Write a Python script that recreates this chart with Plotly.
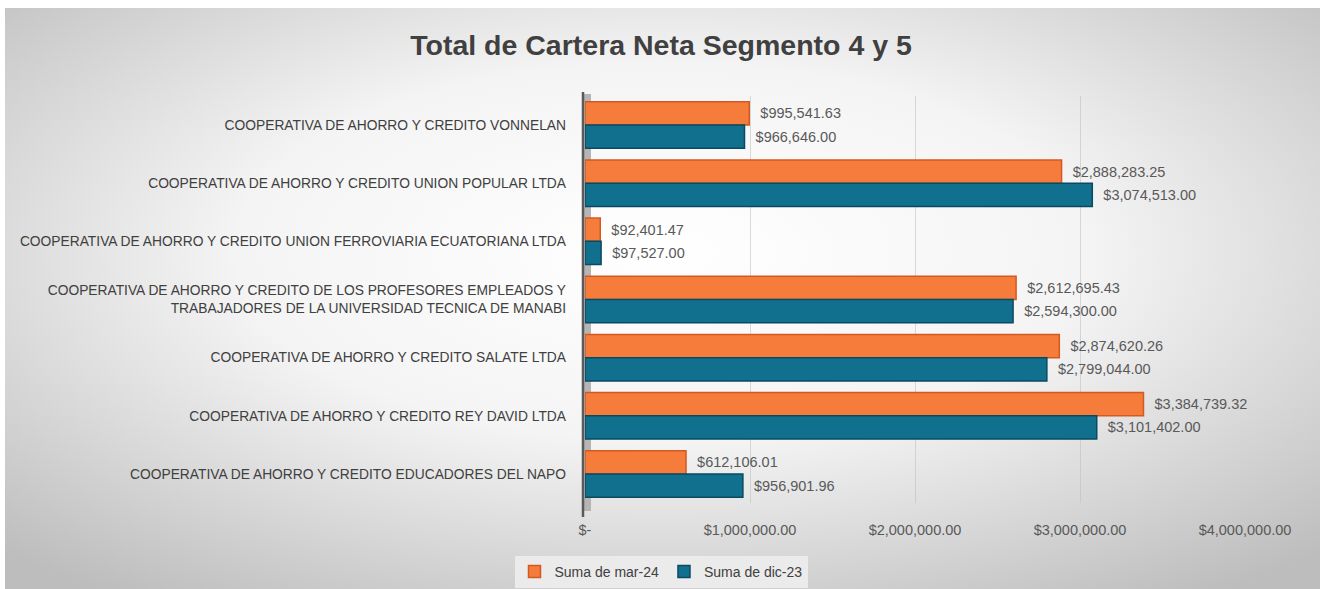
import base64
import plotly.graph_objects as go

# Data (top to bottom)
categorias = [
    "COOPERATIVA DE AHORRO Y CREDITO VONNELAN",
    "COOPERATIVA DE AHORRO Y CREDITO UNION POPULAR LTDA",
    "COOPERATIVA DE AHORRO Y CREDITO UNION FERROVIARIA ECUATORIANA LTDA",
    "COOPERATIVA DE AHORRO Y CREDITO DE LOS PROFESORES EMPLEADOS Y<br>TRABAJADORES DE LA UNIVERSIDAD TECNICA DE MANABI",
    "COOPERATIVA DE AHORRO Y CREDITO SALATE LTDA",
    "COOPERATIVA DE AHORRO Y CREDITO REY DAVID LTDA",
    "COOPERATIVA DE AHORRO Y CREDITO EDUCADORES DEL NAPO",
]
mar_24 = [995541.63, 2888283.25, 92401.47, 2612695.43, 2874620.26, 3384739.32, 612106.01]
dic_23 = [966646.00, 3074513.00, 97527.00, 2594300.00, 2799044.00, 3101402.00, 956901.96]

tick_vals = [0, 1000000, 2000000, 3000000, 4000000]
tick_text = ["$-", "$1,000,000.00", "$2,000,000.00", "$3,000,000.00", "$4,000,000.00"]

W, H = 1320, 589
L, R, T, B = 585, 75, 96, 86
pw, ph = W - L - R, H - T - B

FONT = "Liberation Sans, Arial, sans-serif"

# chart area (grey gradient) starts a few px in from the top/left like the screenshot
bx0, by0 = 5, 8
bw, bh = W - bx0, H - by0
svg = (
    f'<svg xmlns="http://www.w3.org/2000/svg" width="{bw}" height="{bh}" preserveAspectRatio="none">'
    '<defs><radialGradient id="g" cx="0.5" cy="0.42" r="0.72">'
    '<stop offset="0" stop-color="#ffffff"/><stop offset="0.45" stop-color="#f4f4f4"/>'
    '<stop offset="1" stop-color="#bdbdbd"/></radialGradient></defs>'
    f'<rect width="{bw}" height="{bh}" fill="url(#g)"/></svg>'
)
bg_src = "data:image/svg+xml;base64," + base64.b64encode(svg.encode()).decode()

lbl = "\u00a0\u00a0$%{x:,.2f}"

fig = go.Figure()
fig.add_trace(go.Bar(
    y=categorias, x=mar_24, orientation="h", name="Suma de mar-24",
    marker=dict(color="#F67C3B", line=dict(color="#D25A22", width=1.5)),
    texttemplate=lbl, textposition="outside",
    textfont=dict(color="#595959", size=14.5, family=FONT), cliponaxis=False,
))
fig.add_trace(go.Bar(
    y=categorias, x=dic_23, orientation="h", name="Suma de dic-23",
    marker=dict(color="#12708F", line=dict(color="#0A4A60", width=1.5)),
    texttemplate=lbl, textposition="outside",
    textfont=dict(color="#595959", size=14.5, family=FONT), cliponaxis=False,
))

fig.update_layout(
    width=W, height=H,
    margin=dict(l=L, r=R, t=T, b=B),
    paper_bgcolor="white", plot_bgcolor="rgba(0,0,0,0)",
    barmode="group", bargap=0.2, bargroupgap=0,
    font=dict(family=FONT, color="#404040", size=13),
    title=dict(
        text="<b>Total de Cartera Neta Segmento 4 y 5</b>",
        x=661 / W, xanchor="center", y=1 - 45 / H, yanchor="middle",
        font=dict(size=28.5, color="#404040", family=FONT),
    ),
    xaxis=dict(
        range=[0, 4000000], tickvals=tick_vals, ticktext=tick_text,
        showgrid=True, gridcolor="rgba(190,190,190,0.55)", gridwidth=1,
        zeroline=False, showline=False, ticklabelstandoff=16,
        tickfont=dict(size=14.5, color="#595959"),
    ),
    yaxis=dict(
        autorange="reversed", showgrid=False, zeroline=False, showline=False,
        ticklabelstandoff=18, tickfont=dict(size=13.8, color="#404040"),
    ),
    legend=dict(
        orientation="h", xref="container", yref="container",
        x=661 / W, xanchor="center", y=(H - 572) / H, yanchor="middle",
        bgcolor="rgba(236,236,236,0.95)", font=dict(size=14, color="#404040"),
        itemwidth=30,
    ),
    images=[dict(
        source=bg_src, xref="paper", yref="paper",
        x=(bx0 - L) / pw, y=1 + (T - by0) / ph, sizex=bw / pw, sizey=bh / ph,
        xanchor="left", yanchor="top", sizing="stretch", layer="below",
    )],
    shapes=[
        # gray 3D wall behind the category axis
        dict(type="rect", xref="paper", yref="paper", x0=-2 / pw, x1=6 / pw,
             y0=-8 / ph, y1=1 + 2 / ph, fillcolor="#b5b5b5", line=dict(width=0), layer="below"),
        dict(type="line", xref="paper", yref="paper", x0=-2 / pw, x1=-2 / pw,
             y0=-14 / ph, y1=1 + 4 / ph, line=dict(color="#5a5a5a", width=2.5)),
    ],
)

# drop the default page margin so the figure fills the window exactly
fig.write_html("out.html", config={"displayModeBar": False},
               post_script="document.body.style.margin='0';document.body.style.overflow='hidden';")
